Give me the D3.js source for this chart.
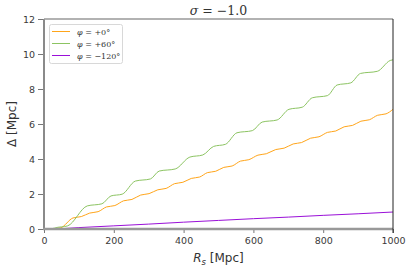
<!DOCTYPE html>
<html>
<head>
<meta charset="utf-8">
<script src="https://cdn.jsdelivr.net/npm/d3@7"></script>
<style>
  body { margin: 0; background: #fff; }
  svg { display: block; }
  .tick text { font-family: "DejaVu Sans", sans-serif; font-size: 9.5px; fill: #3a3a3a; }
</style>
</head>
<body>
<div id="chart"></div>
<script>
// series: R_s [Mpc] and Delta [Mpc]
const rsPhi0 = [0, 25, 48, 83, 107, 131, 155, 179, 203, 228, 252, 277, 301, 326, 350, 374, 398, 422, 446, 468, 492, 515, 539, 563, 587, 613, 637, 664, 688, 714, 738, 764, 788, 812, 836, 860, 884, 908, 932, 956, 980, 1000];
const deltaPhi0 = [0, 0.01, 0.07, 0.63, 0.71, 0.91, 0.99, 1.26, 1.34, 1.61, 1.69, 1.94, 2.02, 2.24, 2.32, 2.59, 2.67, 2.89, 2.97, 3.22, 3.30, 3.52, 3.60, 3.88, 3.96, 4.22, 4.30, 4.54, 4.62, 4.86, 4.94, 5.19, 5.27, 5.52, 5.60, 5.84, 5.92, 6.16, 6.24, 6.50, 6.58, 6.84];

const rsPhi60 = [0, 20, 40, 50, 68, 124, 166, 192, 224, 262, 305, 330, 376, 418, 455, 486, 520, 553, 597, 625, 668, 702, 740, 769, 812, 840, 879, 907, 955, 992, 1000];
const deltaPhi60 = [0, 0.01, 0.10, 0.12, 0.18, 1.32, 1.44, 1.89, 1.99, 2.74, 2.86, 3.31, 3.43, 4.11, 4.23, 4.72, 4.84, 5.50, 5.62, 6.11, 6.23, 6.84, 6.96, 7.50, 7.62, 8.23, 8.35, 8.89, 9.01, 9.63, 9.67];

const rsPhiM120 = [0, 20, 100, 200, 300, 400, 500, 600, 700, 800, 900, 1000];
const deltaPhiM120 = [0, 0.0, 0.08, 0.18, 0.28, 0.39, 0.49, 0.59, 0.68, 0.78, 0.87, 0.97];

const legendLabels = ["+0°", "+60°", "\u2212120°"];
const seriesColors = ["#ffa51a", "#8cc462", "#9a10d8"];
const xTicks = [0, 200, 400, 600, 800, 1000];
const yTicks = [0, 2, 4, 6, 8, 10, 12];

const width = 411, height = 271;
const margin = { left: 44, right: 18, top: 19, bottom: 42 };

const svg = d3.select("#chart").append("svg")
    .attr("width", width)
    .attr("height", height);

const x = d3.scaleLinear().domain([0, 1000]).range([margin.left, width - margin.right]);
const y = d3.scaleLinear().domain([0, 12]).range([height - margin.bottom, margin.top]);

const series = [
    { r: rsPhi0, d: deltaPhi0 },
    { r: rsPhi60, d: deltaPhi60 },
    { r: rsPhiM120, d: deltaPhiM120 }
];

const line = d3.line()
    .x(p => x(p[0]))
    .y(p => y(p[1]))
    .curve(d3.curveMonotoneX);

// lines
series.forEach((s, i) => {
    const pts = s.r.map((r, j) => [r, s.d[j]]);
    svg.append("path")
        .datum(pts)
        .attr("fill", "none")
        .attr("stroke", seriesColors[i])
        .attr("stroke-width", 1)
        .attr("d", line);
});

// axes
const xAxis = svg.append("g")
    .attr("transform", `translate(0,${y(0)})`)
    .call(d3.axisBottom(x).tickValues(xTicks).tickSize(4).tickPadding(4).tickFormat(d3.format("d")));
const yAxis = svg.append("g")
    .attr("transform", `translate(${x(0)},0)`)
    .call(d3.axisLeft(y).tickValues(yTicks).tickSize(6).tickPadding(3).tickFormat(d3.format("d")));

[xAxis, yAxis].forEach(g => {
    g.select(".domain").remove();
    g.selectAll(".tick line").attr("stroke", "#777").attr("stroke-width", 1);
});

// spines
svg.append("line").attr("x1", x(0)).attr("x2", x(0)).attr("y1", y(12)).attr("y2", y(0))
    .attr("stroke", "#8a8a8a").attr("stroke-width", 2);
svg.append("line").attr("x1", x(0) - 1).attr("x2", x(1000)).attr("y1", y(0)).attr("y2", y(0))
    .attr("stroke", "#999").attr("stroke-width", 2.5);
svg.append("line").attr("x1", x(0)).attr("x2", x(1000)).attr("y1", y(12)).attr("y2", y(12))
    .attr("stroke", "#999").attr("stroke-width", 1.5);
svg.append("line").attr("x1", x(1000)).attr("x2", x(1000)).attr("y1", y(12)).attr("y2", y(0) + 4)
    .attr("stroke", "#222").attr("stroke-width", 1);

// title
const title = svg.append("text")
    .attr("x", (x(0) + x(1000)) / 2)
    .attr("y", 15)
    .attr("text-anchor", "middle")
    .attr("font-family", "'DejaVu Serif', serif")
    .attr("font-size", 12.5)
    .attr("fill", "#333");
title.append("tspan").attr("font-style", "italic").text("σ");
title.append("tspan").text(" = \u22121.0");

// x label
const xl = svg.append("text")
    .attr("x", (x(0) + x(1000)) / 2)
    .attr("y", 262)
    .attr("text-anchor", "middle")
    .attr("font-family", "'DejaVu Sans', sans-serif")
    .attr("font-size", 12)
    .attr("fill", "#333");
xl.append("tspan").attr("font-style", "italic").text("R");
xl.append("tspan").attr("font-style", "italic").attr("font-size", 8.5).attr("dy", 2.5).text("s");
xl.append("tspan").attr("dy", -2.5).text(" [Mpc]");

// y label
svg.append("text")
    .attr("transform", `translate(16,${(y(0) + y(12)) / 2}) rotate(-90)`)
    .attr("text-anchor", "middle")
    .attr("font-family", "'DejaVu Sans', sans-serif")
    .attr("font-size", 12)
    .attr("fill", "#333")
    .text("Δ [Mpc]");

// legend
const legend = svg.append("g").attr("transform", "translate(49,24)");
legend.append("rect")
    .attr("x", 0.5).attr("y", 0.5)
    .attr("width", 73).attr("height", 39)
    .attr("rx", 2)
    .attr("fill", "#fff").attr("fill-opacity", 0.8)
    .attr("stroke", "#d8d8d8");
legendLabels.forEach((lab, i) => {
    const yy = 7.5 + i * 12;
    legend.append("line")
        .attr("x1", 3).attr("x2", 21).attr("y1", yy).attr("y2", yy)
        .attr("stroke", seriesColors[i]).attr("stroke-width", 1);
    const t = legend.append("text")
        .attr("x", 28).attr("y", yy + 3)
        .attr("font-family", "'DejaVu Serif', serif")
        .attr("font-size", 8)
        .attr("fill", "#333");
    t.append("tspan").attr("font-style", "italic").text("φ");
    t.append("tspan").text(" = " + lab);
});
</script>
</body>
</html>
